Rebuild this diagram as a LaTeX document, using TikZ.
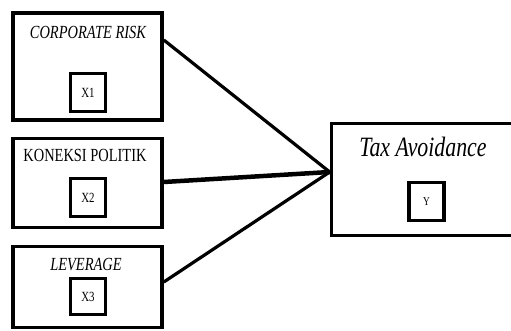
\documentclass[tikz,border=0pt]{standalone}
\usepackage{fontspec}
\setmainfont{Liberation Serif}
\newfontfamily\cond[FakeStretch=0.78]{Liberation Serif}
\begin{document}
\begin{tikzpicture}[x=1pt,y=-1pt,
  outerbox/.style={draw=black,line width=3.6pt,minimum width=#1,inner sep=0pt},
  codebox/.style={draw=black,line width=3.6pt,minimum width=35pt,minimum height=38pt,inner sep=0pt,font=\cond\fontsize{14}{14}\selectfont},
  title/.style={inner sep=0pt,font=\cond\fontsize{18.5}{19}\selectfont},
  link/.style={line width=3.2pt},
]
\useasboundingbox (0,0) rectangle (511,331);
\begin{scope}
\clip (0,0) rectangle (511,331);
% left boxes
\node[outerbox=149pt,minimum height=107pt] (b1) at (87.5,66.5) {};
\node[outerbox=149pt,minimum height=89pt] (b2) at (87.5,183) {};
\node[outerbox=149pt,minimum height=81pt] (b3) at (87.5,287) {};
% right box (open to the right)
\node[outerbox=190pt,minimum height=112pt] (ty) at (426.5,179.5) {};
\end{scope}
% titles
\node[title] (t1) at (88,32) {\itshape CORPORATE RISK};
\node[title] (t2) at (85,155) {KONEKSI POLITIK};
\node[title] (t3) at (86,265) {\itshape LEVERAGE};
\node[inner sep=0pt,font=\cond\fontsize{28}{29}\selectfont] (t4) at (423,147) {\itshape Tax Avoidance};
% code boxes
\node[codebox] (x1) at (88,92.5) {X1};
\node[codebox] (x2) at (88,197.5) {X2};
\node[codebox,minimum height=36pt] (x3) at (88,296.5) {X3};
\node[codebox,font=\cond\fontsize{12}{12}\selectfont] (y) at (426.5,201.5) {Y};
% connectors
\coordinate (hub) at ([yshift=7.5pt]ty.west);
\draw[link] ([yshift=26.5pt]b1.east) -- (hub);
\draw[link,line width=4.5pt] ([yshift=1pt]b2.east) -- (hub);
\draw[link] ([yshift=5pt]b3.east) -- (hub);
\end{tikzpicture}
\end{document}
